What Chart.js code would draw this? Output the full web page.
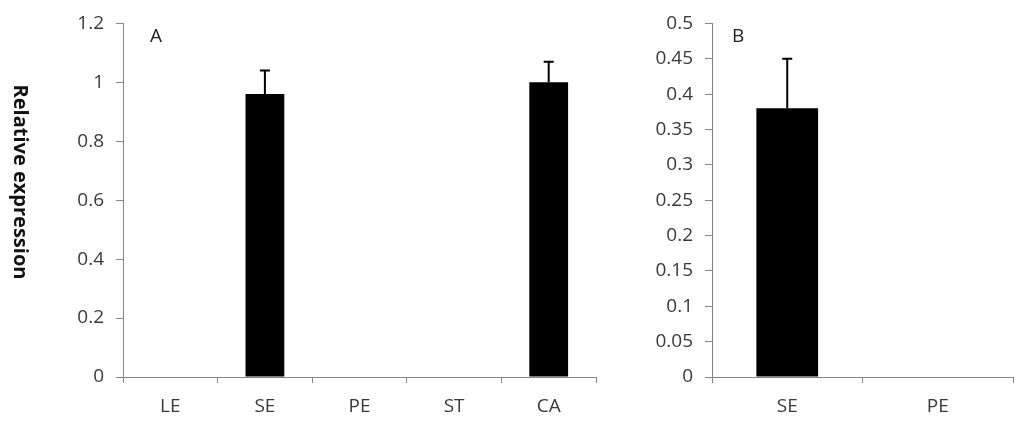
<!DOCTYPE html>
<html>
<head>
<meta charset="utf-8">
<script src="https://cdn.jsdelivr.net/npm/chart.js@4.4.0/dist/chart.umd.min.js"></script>
<style>
  html, body { margin: 0; padding: 0; background: #fff; }
  #wrap { position: relative; width: 1024px; height: 424px; }
  #boxA { position: absolute; left: 0; top: 0; width: 600px; height: 424px; }
  #boxB { position: absolute; left: 600px; top: 0; width: 424px; height: 424px; }
</style>
</head>
<body>
<div id="wrap">
  <div id="boxA"><canvas id="chartA"></canvas></div>
  <div id="boxB"><canvas id="chartB"></canvas></div>
</div>
<script>
// panel A
const categoriesA = ['LE', 'SE', 'PE', 'ST', 'CA'];
const valuesA     = [0, 0.96, 0, 0, 1.0];
const errorsA     = [0, 0.08, 0, 0, 0.07];
const yTicksA     = [0, 0.2, 0.4, 0.6, 0.8, 1, 1.2];

// panel B
const categoriesB = ['SE', 'PE'];
const valuesB     = [0.38, 0];
const errorsB     = [0.07, 0];
const yTicksB     = [0, 0.05, 0.1, 0.15, 0.2, 0.25, 0.3, 0.35, 0.4, 0.45, 0.5];

const FONT = "'Open Sans', 'Noto Sans', sans-serif";
const AXIS = '#868686';
const TEXT = '#3a3a3a';

const errorBars = {
    id: 'errorBars',
    afterDatasetsDraw(chart, args, opts) {
        const { ctx, scales: { x, y } } = chart;
        const vals = chart.data.datasets[0].data;
        ctx.save();
        ctx.strokeStyle = '#000';
        ctx.lineWidth = 2;
        opts.errors.forEach((e, i) => {
            if (!e) return;
            const cx = x.getPixelForValue(i);
            const y0 = y.getPixelForValue(vals[i]);
            const y1 = y.getPixelForValue(vals[i] + e);
            ctx.beginPath();
            ctx.moveTo(cx, y0);
            ctx.lineTo(cx, y1);
            ctx.moveTo(cx - 5, y1);
            ctx.lineTo(cx + 5, y1);
            ctx.stroke();
        });
        ctx.restore();
    },
};

const panelText = {
    id: 'panelText',
    afterDraw(chart, args, opts) {
        const { ctx, chartArea } = chart;
        ctx.save();
        ctx.fillStyle = '#222';
        ctx.font = '19px ' + FONT;
        ctx.textBaseline = 'middle';
        ctx.fillText(opts.letter, chartArea.left + opts.dx, chartArea.top + opts.dy);
        if (opts.yTitle) {
            ctx.translate(20, 182);
            ctx.rotate(Math.PI / 2);
            ctx.font = 'bold 20px ' + FONT;
            ctx.textAlign = 'center';
            ctx.fillStyle = '#111';
            ctx.fillText(opts.yTitle, 0, 0);
        }
        ctx.restore();
    },
};

function makePanel(el, labels, values, errors, yTicks, max, pad, yWidth, panel) {
    return new Chart(el, {
        type: 'bar',
        data: {
            labels: labels,
            datasets: [{
                data: values,
                backgroundColor: '#000',
                borderWidth: 0,
                barPercentage: 0.41,
                categoryPercentage: 1,
            }],
        },
        options: {
            responsive: true,
            maintainAspectRatio: false,
            animation: false,
            layout: { padding: pad },
            plugins: {
                legend: { display: false },
                tooltip: { enabled: false },
                errorBars: { errors: errors },
                panelText: panel,
            },
            scales: {
                x: {
                    grid: { drawOnChartArea: false, tickLength: 6, color: AXIS, offset: true },
                    border: { color: AXIS, width: 1 },
                    ticks: { color: TEXT, font: { family: FONT, size: 19 }, padding: 12 },
                    afterFit: s => { s.height = 47; },
                },
                y: {
                    min: 0,
                    max: max,
                    grid: { drawOnChartArea: false, tickLength: 7, color: AXIS },
                    border: { color: AXIS, width: 1 },
                    afterBuildTicks: s => { s.ticks = yTicks.map(v => ({ value: v })); },
                    ticks: {
                        color: TEXT,
                        font: { family: FONT, size: 19 },
                        padding: 12,
                        callback: v => String(+Number(v).toFixed(2)),
                    },
                    afterFit: s => { s.width = yWidth; },
                },
            },
        },
        plugins: [errorBars, panelText],
    });
}

makePanel(document.getElementById('chartA'), categoriesA, valuesA, errorsA, yTicksA, 1.2,
    { top: 20, right: 4, bottom: 0, left: 0 }, 123,
    { letter: 'A', dx: 27, dy: 13, yTitle: 'Relative expression' });

makePanel(document.getElementById('chartB'), categoriesB, valuesB, errorsB, yTicksB, 0.5,
    { top: 17, right: 11, bottom: 0, left: 0 }, 112,
    { letter: 'B', dx: 20, dy: 13 });
</script>
</body>
</html>
